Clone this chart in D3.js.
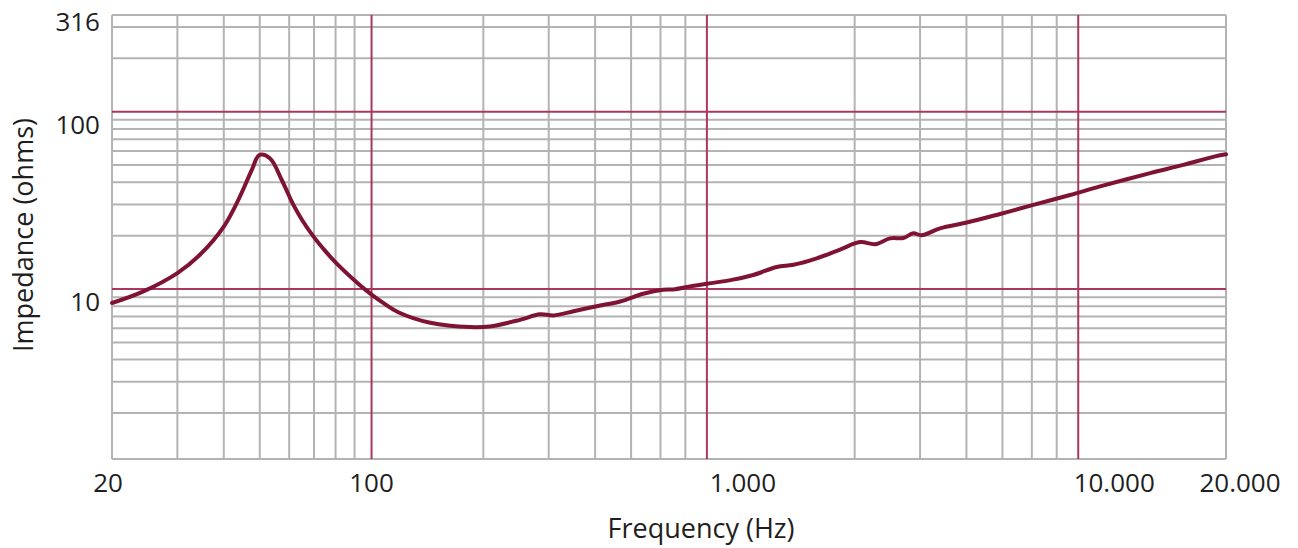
<!DOCTYPE html>
<html>
<head>
<meta charset="UTF-8">
<title>Impedance</title>
<style>
    body { margin: 0; background: #fff; }
    svg { display: block; }
    text { font-family: "Open Sans", Arial, sans-serif; fill: #1e1e1e; }
</style>
</head>
<body>
<svg id="chart" width="1298" height="548"></svg>
<script src="https://d3js.org/d3.v7.min.js"></script>
<script>
// impedance curve (Hz, ohms)
var freq = [20, 24.3, 30, 34.5, 40, 44.2, 47.6, 49.9, 53.3, 57.3, 61.6, 65, 69.7, 75, 80.6, 93.1,
            100, 108, 118, 144, 184, 208, 251, 284, 309, 350, 404, 467, 539, 610, 650,
            720, 800, 940, 1067, 1234, 1368, 1581, 1827, 2069, 2270, 2491, 2704, 2877,
            3031, 3396, 4009, 4928, 6057, 7604, 9162, 12495, 15350, 18690, 20000];
var ohms = [8.34, 9.7, 12.3, 15.6, 22.5, 33.2, 47, 57, 54.5, 41.2, 29.8, 24.5, 19.8, 16.4, 13.9, 10.5,
            9.3, 8.3, 7.4, 6.45, 6.1, 6.15, 6.7, 7.2, 7.1, 7.5, 8.0, 8.5, 9.4, 9.9, 9.95,
            10.35, 10.7, 11.3, 12.0, 13.3, 13.7, 14.9, 16.7, 18.4, 17.9, 19.3, 19.4, 20.6,
            20.1, 22.0, 23.7, 26.5, 29.8, 33.9, 37.9, 45, 50.1, 56, 57.5];

// grid lines as they appear in the original
var xGrey = [30, 40, 50, 60, 70, 80, 90, 200, 300, 400, 500, 600, 700,
             2000, 3000, 4000, 5000, 6000, 7000];
var xRed = [100, 800, 8000];
var yGrey = [2, 3, 4, 5, 6, 7, 8, 9, 20, 30, 40, 50, 60, 70, 80, 90, 200, 300];
var yRed = [10, 100];

var xTicks = [20, 100, 1000, 10000, 20000];
var xTickText = ["20", "100", "1.000", "10.000", "20.000"];
var yTicks = [316, 100, 10];

var plotL = 112, plotR = 1226, plotT = 15, plotB = 459;

var x = d3.scaleLog().domain([20, 20000]).range([plotL, plotR]);
var y = d3.scaleLog().domain([1.1, 351]).range([plotB, plotT]);

var svg = d3.select("#chart");

// grey grid + frame
var grid = svg.append("g");
grid.selectAll("line.gx").data(xGrey.concat([20, 20000])).enter().append("line")
    .attr("x1", function(d) { return x(d); }).attr("x2", function(d) { return x(d); })
    .attr("y1", plotT).attr("y2", plotB)
    .attr("stroke", "#b3b3b3").attr("stroke-width", 2);
grid.selectAll("line.gy").data(yGrey.concat([1.1, 351])).enter().append("line")
    .attr("y1", function(d) { return y(d); }).attr("y2", function(d) { return y(d); })
    .attr("x1", plotL).attr("x2", plotR)
    .attr("stroke", "#b3b3b3").attr("stroke-width", 2);

// red decade lines
grid.selectAll("line.rx").data(xRed).enter().append("line")
    .attr("x1", function(d) { return x(d); }).attr("x2", function(d) { return x(d); })
    .attr("y1", plotT).attr("y2", plotB)
    .attr("stroke", "#a8385f").attr("stroke-width", 2);
grid.selectAll("line.ry").data(yRed).enter().append("line")
    .attr("y1", function(d) { return y(d); }).attr("y2", function(d) { return y(d); })
    .attr("x1", plotL).attr("x2", plotR)
    .attr("stroke", "#a8385f").attr("stroke-width", 2);

// the curve
var line = d3.line()
    .x(function(d, i) { return x(freq[i]); })
    .y(function(d) { return y(d); })
    .curve(d3.curveCatmullRom.alpha(0.5));

svg.append("path")
    .datum(ohms)
    .attr("d", line)
    .attr("fill", "none")
    .attr("stroke", "#7f1333")
    .attr("stroke-width", 4)
    .attr("stroke-linejoin", "round")
    .attr("stroke-linecap", "round");

// tick labels
svg.selectAll("text.xt").data(xTicks).enter().append("text")
    .attr("x", function(d) { return x(d); })
    .attr("dx", function(d, i) { return i === xTicks.length - 1 ? 14 : (i === 0 ? -4 : 0); })
    .attr("y", 492)
    .attr("text-anchor", "middle")
    .style("font-size", "26px")
    .text(function(d, i) { return xTickText[i]; });

svg.selectAll("text.yt").data(yTicks).enter().append("text")
    .attr("x", 100)
    .attr("y", function(d) { return y(d) + (d === 316 ? -1 : 13); })
    .attr("dy", "0.35em")
    .attr("text-anchor", "end")
    .style("font-size", "26px")
    .text(function(d) { return d; });

// axis titles
svg.append("text")
    .attr("x", 701).attr("y", 538)
    .attr("text-anchor", "middle")
    .style("font-size", "27px")
    .text("Frequency (Hz)");

svg.append("text")
    .attr("transform", "translate(33,235) rotate(-90)")
    .attr("text-anchor", "middle")
    .style("font-size", "27px")
    .text("Impedance (ohms)");
</script>
</body>
</html>
